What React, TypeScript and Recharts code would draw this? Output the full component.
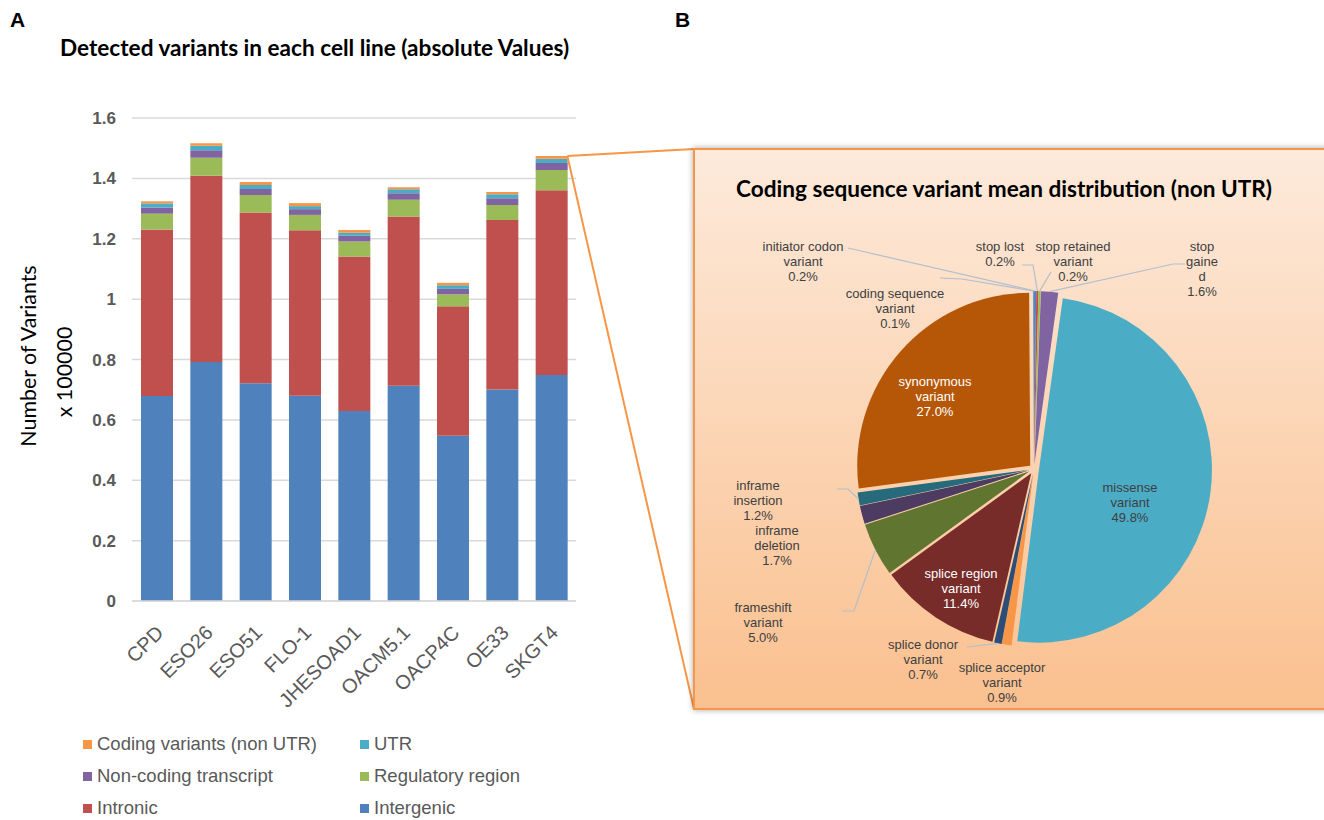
import { BarChart, Bar, XAxis, YAxis, CartesianGrid, PieChart, Pie, Cell, Sector } from 'recharts';

// panel A: variants per cell line, x 100000
const cellLines = ['CPD', 'ESO26', 'ESO51', 'FLO-1', 'JHESOAD1', 'OACM5.1', 'OACP4C', 'OE33', 'SKGT4'];
const intergenic = [0.679, 0.792, 0.721, 0.68, 0.629, 0.713, 0.547, 0.701, 0.749];
const intronic = [0.552, 0.617, 0.566, 0.548, 0.512, 0.561, 0.429, 0.561, 0.612];
const regulatory = [0.052, 0.059, 0.058, 0.051, 0.05, 0.055, 0.04, 0.05, 0.067];
const nonCoding = [0.02, 0.025, 0.02, 0.019, 0.019, 0.022, 0.018, 0.022, 0.023];
const utr = [0.014, 0.015, 0.013, 0.01, 0.01, 0.013, 0.012, 0.013, 0.014];
const coding = [0.007, 0.008, 0.01, 0.01, 0.009, 0.007, 0.008, 0.008, 0.009];
const yTicks = [0, 0.2, 0.4, 0.6, 0.8, 1, 1.2, 1.4, 1.6];

// panel B: coding sequence variant mean distribution (%)
const pieNames = [
  'initiator codon variant', 'stop lost', 'stop retained variant', 'stop gained', 'missense variant',
  'splice acceptor variant', 'splice donor variant', 'splice region variant', 'frameshift variant',
  'inframe deletion', 'inframe insertion', 'synonymous variant', 'coding sequence variant',
];
const pieValues = [0.2, 0.2, 0.2, 1.6, 49.8, 0.9, 0.7, 11.4, 5.0, 1.7, 1.2, 27.0, 0.1];

const series = [
  { key: 'intergenic', name: 'Intergenic', color: '#4F81BD', values: intergenic },
  { key: 'intronic', name: 'Intronic', color: '#C0504D', values: intronic },
  { key: 'regulatory', name: 'Regulatory region', color: '#9BBB59', values: regulatory },
  { key: 'nonCoding', name: 'Non-coding transcript', color: '#8064A2', values: nonCoding },
  { key: 'utr', name: 'UTR', color: '#4BACC6', values: utr },
  { key: 'coding', name: 'Coding variants (non UTR)', color: '#F79646', values: coding },
];

const barData = cellLines.map((name, i) => {
  const row: any = { name };
  series.forEach((s) => (row[s.key] = s.values[i]));
  return row;
});

const pieColors = ['#4F81BD', '#C0504D', '#9BBB59', '#8064A2', '#4BACC6', '#F79646', '#2C4D75', '#772C2A', '#5F7530', '#4D3B62', '#276A7C', '#B65708', '#729ACA'];
const pieData = pieNames.map((name, i) => ({ name, value: pieValues[i] }));

// label placement relative to pie centre (Excel had them hand placed)
const pieLabelLayout: any[] = [
  { dx: -231, dy: -223, lines: ['initiator codon', 'variant'], leader: [[-186, -221]] },
  { dx: -34, dy: -223, lines: ['stop lost'], leader: [[-12, -204], [-1, -204]] },
  { dx: 39, dy: -223, lines: ['stop retained', 'variant'], leader: [[17, -197]] },
  { dx: 168, dy: -223, lines: ['stop', 'gaine', 'd'], leader: [[151, -205], [139, -205]] },
  { dx: 96, dy: 18, lines: ['missense', 'variant'] },
  { dx: -32, dy: 198, lines: ['splice acceptor', 'variant'] },
  { dx: -111, dy: 175, lines: ['splice donor', 'variant'], leader: [[-67, 178]] },
  { dx: -73, dy: 104, lines: ['splice region', 'variant'], color: '#ffffff' },
  { dx: -271, dy: 138, lines: ['frameshift', 'variant'], leader: [[-192, 142], [-180, 142]] },
  { dx: -257, dy: 61, lines: ['inframe', 'deletion'] },
  { dx: -276, dy: 16, lines: ['inframe', 'insertion'], leader: [[-197, 20], [-186, 20]] },
  { dx: -99, dy: -88, lines: ['synonymous', 'variant'], color: '#ffffff' },
  { dx: -139, dy: -176, lines: ['coding sequence', 'variant'], leader: [[-94, -191], [-72, -190]] },
];

const RAD = Math.PI / 180;
const EXPLODE = 5;
const ARIAL = 'Liberation Sans, Arial, sans-serif';
const CALIBRI = 'Lato, Carlito, sans-serif';

// bar chart geometry
const CHART_W = 600;
const PLOT_LEFT = 132;
const PLOT_RIGHT = 576;
const PLOT_TOP = 118;
const PLOT_BOTTOM = 601;

const ExplodedSlice = (props: any) => {
  const { cx, cy, midAngle } = props;
  return (
    <Sector
      {...props}
      cx={cx + EXPLODE * Math.cos(-midAngle * RAD)}
      cy={cy + EXPLODE * Math.sin(-midAngle * RAD)}
    />
  );
};

const renderPieLabel = (props: any) => {
  const { cx, cy, midAngle, outerRadius, index, value } = props;
  const lay = pieLabelLayout[index];
  const x = cx + lay.dx;
  const y = cy + lay.dy;
  const lines = [...lay.lines, value.toFixed(1) + '%'];
  let leader = null;
  if (lay.leader) {
    const r = outerRadius + EXPLODE;
    const end = [cx + r * Math.cos(-midAngle * RAD), cy + r * Math.sin(-midAngle * RAD)];
    const pts = [...lay.leader.map((p: number[]) => [cx + p[0], cy + p[1]]), end];
    leader = <polyline points={pts.map((p) => p.join(',')).join(' ')} fill="none" stroke="#b3bfcc" strokeWidth={1.2} />;
  }
  return (
    <g key={'lbl' + index}>
      {leader}
      <text x={x} y={y} textAnchor="middle" fill={lay.color || '#404040'} fontSize={13} fontFamily={ARIAL}>
        {lines.map((t, k) => (
          <tspan key={k} x={x} dy={k === 0 ? '0.35em' : 15}>{t}</tspan>
        ))}
      </text>
    </g>
  );
};

const XTick = ({ x, payload }: any) => (
  <text
    transform={`translate(${x + 8},${PLOT_BOTTOM + 33}) rotate(-45)`}
    textAnchor="end"
    fill="#595959"
    fontSize={20}
    fontFamily={ARIAL}
  >
    {payload.value}
  </text>
);

export default function App() {
  const band = (PLOT_RIGHT - PLOT_LEFT) / cellLines.length;
  const lastTotal = series.reduce((acc, s) => acc + s.values[cellLines.length - 1], 0);
  const zoomX = PLOT_LEFT + band * (cellLines.length - 0.5) + 16;
  const zoomY = PLOT_BOTTOM - (lastTotal / 1.6) * (PLOT_BOTTOM - PLOT_TOP);
  const legendOrder = [...series].reverse();

  return (
    <div style={{ position: 'absolute', left: 0, top: 0, width: 1324, height: 820, overflow: 'hidden', background: '#fff' }}>
      <div style={{ position: 'absolute', left: 10, top: 8, fontFamily: ARIAL, fontWeight: 'bold', fontSize: 21 }}>A</div>
      <div style={{ position: 'absolute', left: 675, top: 8, fontFamily: ARIAL, fontWeight: 'bold', fontSize: 21 }}>B</div>
      <div style={{ position: 'absolute', left: 60, top: 34, fontFamily: CALIBRI, fontWeight: 'bold', fontSize: 22.6, color: '#000', whiteSpace: 'nowrap' }}>
        Detected variants in each cell line (absolute Values)
      </div>

      <div style={{ position: 'absolute', left: 0, top: 0 }}>
        <BarChart
          width={CHART_W}
          height={720}
          data={barData}
          margin={{ top: PLOT_TOP, right: CHART_W - PLOT_RIGHT, left: 0, bottom: 0 }}
          barSize={32}
        >
          <CartesianGrid vertical={false} stroke="#d9d9d9" strokeWidth={1.5} />
          <XAxis dataKey="name" interval={0} height={119} tickLine={false} axisLine={{ stroke: '#d9d9d9', strokeWidth: 1.5 }} tick={<XTick />} />
          <YAxis
            type="number"
            domain={[0, 1.6]}
            ticks={yTicks}
            width={PLOT_LEFT}
            axisLine={false}
            tickLine={false}
            tickSize={0}
            tickMargin={16}
            tick={{ fill: '#595959', fontSize: 17, fontWeight: 'bold', fontFamily: ARIAL }}
          />
          {series.map((s) => (
            <Bar key={s.key} dataKey={s.key} name={s.name} stackId="a" fill={s.color} isAnimationActive={false} />
          ))}
        </BarChart>
      </div>

      <svg width={1324} height={820} style={{ position: 'absolute', left: 0, top: 0, pointerEvents: 'none' }}>
        <text transform="translate(36,356) rotate(-90)" textAnchor="middle" fontFamily={CALIBRI} fontSize={21.4} fill="#000">
          Number of Variants
        </text>
        <text transform="translate(72,372) rotate(-90)" textAnchor="middle" fontFamily={CALIBRI} fontSize={21.4} fill="#000">
          x 100000
        </text>
        <line x1={zoomX} y1={zoomY} x2={694} y2={149} stroke="#F79646" strokeWidth={2} />
        <line x1={zoomX} y1={zoomY} x2={694} y2={709} stroke="#F79646" strokeWidth={2} />
      </svg>

      <div style={{ position: 'absolute', left: 83, top: 733, width: 480, display: 'grid', gridTemplateColumns: '277px 200px', rowGap: 10 }}>
        {legendOrder.map((s) => (
          <div key={s.key} style={{ display: 'flex', alignItems: 'center', height: 22, fontFamily: ARIAL, fontSize: 18.5, color: '#595959', whiteSpace: 'nowrap' }}>
            <span style={{ width: 9, height: 9, background: s.color, marginRight: 5, display: 'inline-block' }} />
            {s.name}
          </div>
        ))}
      </div>

      <div
        style={{
          position: 'absolute',
          left: 693,
          top: 148,
          width: 660,
          height: 562,
          boxSizing: 'border-box',
          border: '2px solid #F79646',
          background: 'linear-gradient(#fdeadb, #fac08f)',
          boxShadow: '0 0 6px rgba(0,0,0,0.35)',
        }}
      >
        <div style={{ position: 'absolute', left: 0, width: 618, top: 25, textAlign: 'center', fontFamily: CALIBRI, fontWeight: 'bold', fontSize: 22.6, color: '#000', whiteSpace: 'nowrap' }}>
          Coding sequence variant mean distribution (non UTR)
        </div>
        <div style={{ position: 'absolute', left: -2, top: -2 }}>
          <PieChart width={640} height={562}>
            <Pie
              data={pieData}
              dataKey="value"
              nameKey="name"
              cx={336}
              cy={316}
              outerRadius={173}
              startAngle={90}
              endAngle={-270}
              stroke="none"
              shape={ExplodedSlice}
              label={renderPieLabel}
              labelLine={false}
              isAnimationActive={false}
            >
              {pieData.map((d, i) => (
                <Cell key={d.name} fill={pieColors[i]} />
              ))}
            </Pie>
          </PieChart>
        </div>
      </div>
    </div>
  );
}
